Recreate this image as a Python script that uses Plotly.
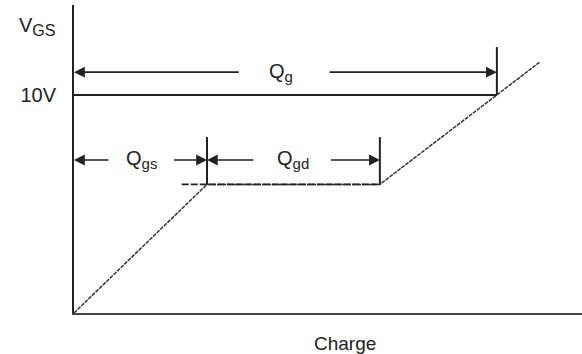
import plotly.graph_objects as go

# Gate charge curve (charge in arbitrary nC units, voltage in V)
charge = [0, 10, 23, 31.8, 35]
vgs = [0, 5.9, 5.9, 10, 11.5]

# plateau dashed guide
plateau_q = [8.1, 23]
plateau_v = [5.9, 5.9]

# key charges
q_gs = 10
q_gd_end = 23
q_g = 31.8
v_plateau = 5.9
v_10 = 10

# dimension arrows heights
v_arrow_g = 11.05
v_arrow_gs = 7.02
v_tick_top_g = 12.2
v_tick_top_gs = 8.07

ink = "#222222"
font = "Liberation Sans, Arial, sans-serif"

def sub(main, s, size=15):
    return f"{main}<sub><span style='font-size:{size}px'>{s}</span></sub>"

fig = go.Figure()

# main curve
fig.add_trace(go.Scatter(x=charge, y=vgs, mode="lines",
                         line=dict(color="#333333", width=1.5, dash="4px,1px"),
                         hoverinfo="skip", showlegend=False))
# plateau dashed
fig.add_trace(go.Scatter(x=plateau_q, y=plateau_v, mode="lines",
                         line=dict(color="#222222", width=1.6, dash="7px,2px"),
                         hoverinfo="skip", showlegend=False))
# 10V line
fig.add_trace(go.Scatter(x=[0, q_g], y=[v_10, v_10], mode="lines",
                         line=dict(color=ink, width=2),
                         hoverinfo="skip", showlegend=False))
# vertical boundary ticks
for xq, y0, y1 in [(q_gs, v_plateau, v_tick_top_gs),
                   (q_gd_end, v_plateau, v_tick_top_gs),
                   (q_g, v_10, v_tick_top_g)]:
    fig.add_trace(go.Scatter(x=[xq, xq], y=[y0, y1], mode="lines",
                             line=dict(color=ink, width=2),
                             hoverinfo="skip", showlegend=False))

def dim_arrow(x_head, x_tail, y):
    fig.add_annotation(x=x_head, y=y, ax=x_tail, ay=y, xref="x", yref="y",
                       axref="x", ayref="y", text="", showarrow=True,
                       arrowhead=2, arrowsize=1.35, arrowwidth=1.6, arrowcolor=ink)

# Qg
dim_arrow(0, 12.5, v_arrow_g)
dim_arrow(q_g, 19.1, v_arrow_g)
# Qgs
dim_arrow(0, 2.7, v_arrow_gs)
dim_arrow(q_gs, 7.4, v_arrow_gs)
# Qgd
dim_arrow(q_gs, 13.6, v_arrow_gs)
dim_arrow(q_gd_end, 19.2, v_arrow_gs)

labels = [(15.6, v_arrow_g, sub("Q", "g")),
          (5.1, v_arrow_gs, sub("Q", "gs")),
          (16.5, v_arrow_gs, sub("Q", "gd"))]
for x, y, t in labels:
    fig.add_annotation(x=x, y=y, xref="x", yref="y", text=t, showarrow=False,
                       font=dict(family=font, size=20, color=ink),
                       xanchor="center", yanchor="middle")

# VGS label
fig.add_annotation(x=-0.073, y=0.93, xref="paper", yref="paper",
                   text=sub("V", "GS", 16), showarrow=False,
                   font=dict(family=font, size=20, color=ink),
                   xanchor="center", yanchor="middle")
# Charge label
fig.add_annotation(x=0.533, y=-0.098, xref="paper", yref="paper",
                   text="Charge", showarrow=False,
                   font=dict(family=font, size=19, color=ink),
                   xanchor="center", yanchor="middle")

fig.update_layout(
    width=582, height=354,
    margin=dict(l=74, r=0, t=5, b=41),
    plot_bgcolor="white", paper_bgcolor="white",
    showlegend=False,
)
fig.update_xaxes(range=[0, 38.2], showgrid=False, zeroline=False,
                 showline=True, linecolor="#444444", linewidth=2,
                 showticklabels=False, ticks="", fixedrange=True)
fig.update_yaxes(range=[0, 14.13], showgrid=False, zeroline=False,
                 showline=True, linecolor="#222222", linewidth=2,
                 tickvals=[10], ticktext=["10V"], ticks="",
                 ticklabelstandoff=12,
                 tickfont=dict(family=font, size=20, color=ink),
                 fixedrange=True)

fig.write_html("out.html", config={"displayModeBar": False},
               post_script="document.body.style.margin='0';")
